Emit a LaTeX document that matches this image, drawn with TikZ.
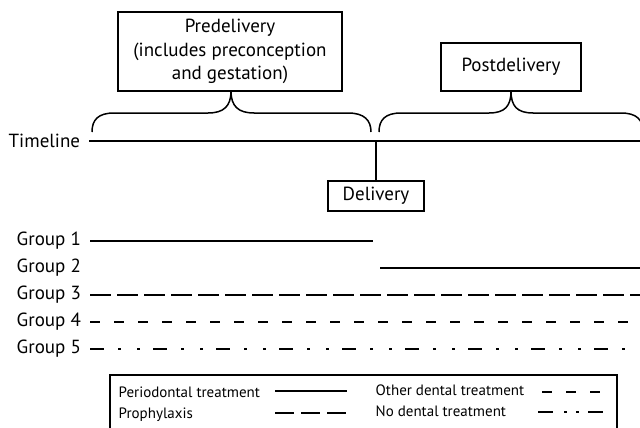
\documentclass[tikz,border=0pt]{standalone}
\usepackage{fontspec}
\setmainfont{PT Sans}
\usetikzlibrary{positioning}
\begin{document}
\begin{tikzpicture}[x=1pt, y=-1pt, line width=1.4pt,
  every node/.style={font=\fontsize{19}{23.5}\selectfont},
  phasebox/.style={draw, line width=1.5pt, align=center, inner sep=0pt},
  grouplabel/.style={anchor=west, inner sep=0pt},
  legendtext/.style={anchor=west, inner sep=0pt, font=\fontsize{15}{18}\selectfont},
  perio/.style={line width=2.2pt},
  prophy/.style={line width=1.6pt, dash pattern=on 21pt off 6pt},
  otherdent/.style={line width=1.6pt, dash pattern=on 10pt off 14pt},
  nodent/.style={line width=1.6pt, dash pattern=on 14pt off 14pt on 3pt off 16pt on 3pt off 13pt}]
\useasboundingbox (0,0) rectangle (640,428);

\node[phasebox, minimum width=224pt, minimum height=79pt] (pre) at (230,51.5) {Predelivery\\(includes preconception\\and gestation)};
\node[phasebox, minimum width=140pt, minimum height=48pt] (post) at (511,67) {Postdelivery};
\node[phasebox, minimum width=96pt, minimum height=30pt] (deliv) at (376,196) {Delivery};

\draw[line width=1.5pt] (92,132) .. controls (92,120) and (98,113) .. (114,113) -- (208,113) .. controls (224,113) and (231,106) .. (231,91) .. controls (231,106) and (238,113) .. (254,113) -- (348,113) .. controls (364,113) and (371,120) .. (371,132);
\draw[line width=1.5pt] (379,132) .. controls (379,120) and (385,113) .. (401,113) -- (489,113) .. controls (505,113) and (511,106) .. (511,91) .. controls (511,106) and (517,113) .. (533,113) -- (621,113) .. controls (637,113) and (643,120) .. (643,132);

\node[grouplabel] (tl) at (8,141) {Timeline};
\coordinate (tls) at (89,141);
\coordinate (tle) at (640,141);
\coordinate (dpt) at (376,141);
\draw (tls) -- (tle);
\draw (dpt) -- (deliv.north);

\node[grouplabel] (g1) at (16,241) {Group 1};
\node[grouplabel] (g2) at (16,268) {Group 2};
\node[grouplabel] (g3) at (16,295) {Group 3};
\node[grouplabel] (g4) at (16,322) {Group 4};
\node[grouplabel] (g5) at (16,349) {Group 5};
\coordinate (g1s) at (90,241);  \coordinate (g1e) at (373,241);
\coordinate (g2s) at (380,268); \coordinate (g2e) at (640,268);
\coordinate (g3s) at (90,295);  \coordinate (g3e) at (640,295);
\coordinate (g4s) at (90,322);  \coordinate (g4e) at (640,322);
\coordinate (g5s) at (90,349);  \coordinate (g5e) at (640,349);
\draw[perio] (g1s) -- (g1e);
\draw (g2s) -- (g2e);
\draw[prophy] (g3s) -- (g3e);
\draw[otherdent] (g4s) -- (g4e);
\draw[nodent] (g5s) -- (g5e);

\draw[line width=1.5pt] (110,375) rectangle (617,445);
\node[legendtext] (lperio) at (118,392) {Periodontal treatment};
\node[legendtext] (lprophy) at (118,415) {Prophylaxis};
\node[legendtext] (lother) at (375,390) {Other dental treatment};
\node[legendtext] (lnone) at (375,411) {No dental treatment};
\draw[perio, line width=1.6pt] (275,391) -- (347,391);
\draw[prophy, dash pattern=on 19pt off 7pt] (275,413) -- (347,413);
\draw[otherdent] (542,392) -- (600,392);
\draw[nodent, dash pattern=on 15pt off 11pt on 2.5pt off 9.5pt on 2.5pt off 9.5pt on 15pt] (538,412) -- (603,412);
\end{tikzpicture}
\end{document}
